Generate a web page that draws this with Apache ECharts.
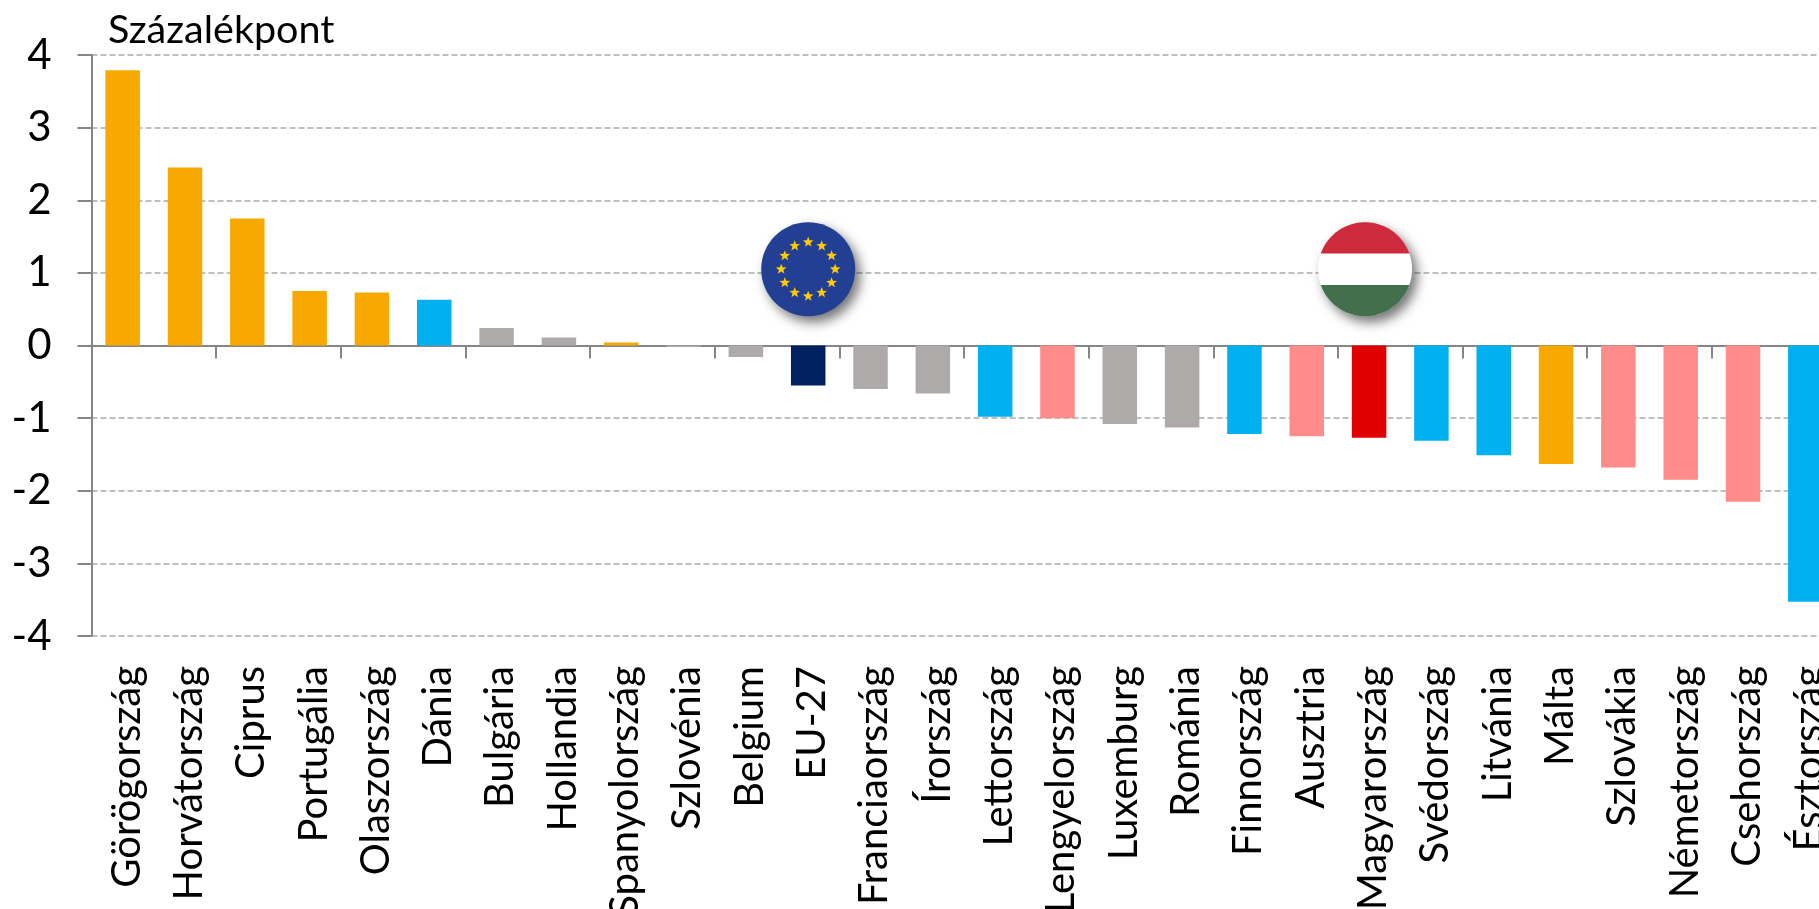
<!DOCTYPE html>
<html><head><meta charset="utf-8">
<style>html,body{margin:0;padding:0;background:#fff}#c{width:1819px;height:909px}</style>
<script src="https://cdn.jsdelivr.net/npm/echarts@6/dist/echarts.min.js"></script>
</head><body><div id="c"></div>
<script>
const categories=["Görögország","Horvátország","Ciprus","Portugália","Olaszország","Dánia","Bulgária","Hollandia","Spanyolország","Szlovénia","Belgium","EU-27","Franciaország","Írország","Lettország","Lengyelország","Luxemburg","Románia","Finnország","Ausztria","Magyarország","Svédország","Litvánia","Málta","Szlovákia","Németország","Csehország","Észtország"];
const values=[3.79,2.45,1.75,0.75,0.73,0.63,0.24,0.11,0.04,-0.02,-0.16,-0.55,-0.6,-0.66,-0.98,-1.0,-1.08,-1.13,-1.22,-1.25,-1.27,-1.31,-1.51,-1.63,-1.68,-1.85,-2.15,-3.53];
const O="#f7a900",B="#00b0f0",G="#aeaaaa",N="#00205f",P="#ff8b8b",R="#e00000";
const barColors=[O,O,O,O,O,B,G,G,O,G,G,N,G,G,B,P,G,G,B,P,R,B,B,O,P,P,P,B];
const yTicks=[-4,-3,-2,-1,0,1,2,3,4];
const unitLabel="Százalékpont";
const flags=[["EU-27",1.05,"eu"],["Magyarország",1.05,"hu"]];
const FONT="Lato";
const RX=47,RY=47,HU_DX=-4;
function star(cx,cy,r){const pts=[];for(let i=0;i<10;i++){const a=-Math.PI/2+i*Math.PI/5,q=i%2?r*0.42:r;pts.push([cx+q*Math.cos(a),cy+q*Math.sin(a)]);}return pts;}
function renderFlag(params,api){
 const c=api.coord([api.value(0),api.value(1)]);const kind=flags[params.dataIndex][2];
 const cx=c[0]+(kind==="hu"?HU_DX:0),cy=c[1];const ch=[];
 const shadow={shadowBlur:12,shadowOffsetX:5,shadowOffsetY:6,shadowColor:"rgba(0,0,0,0.55)"};
 if(kind==="eu"){
  ch.push({type:"ellipse",shape:{cx,cy,rx:RX,ry:RY},style:Object.assign({fill:"#233f93"},shadow)});
  for(let i=0;i<12;i++){const a=i*Math.PI/6;ch.push({type:"polygon",shape:{points:star(cx+27*Math.sin(a),cy-27*Math.cos(a),5.6)},style:{fill:"#ffcc00"}});}
 }else{
  ch.push({type:"ellipse",shape:{cx,cy,rx:RX,ry:RY},style:Object.assign({fill:"#fff"},shadow)});
  const clip=(y1,y2)=>{const pts=[];const n=40;const a1=Math.asin((y1-cy)/RY),a2=Math.asin((y2-cy)/RY);
   for(let i=0;i<=n;i++){const a=a1+(a2-a1)*i/n;pts.push([cx+RX*Math.cos(a),cy+RY*Math.sin(a)]);}
   for(let i=n;i>=0;i--){const a=a1+(a2-a1)*i/n;pts.push([cx-RX*Math.cos(a),cy+RY*Math.sin(a)]);}
   return pts;};
  ch.push({type:"polygon",shape:{points:clip(cy-RY,cy-RY/3)},style:{fill:"#cd2a3e"}});
  ch.push({type:"polygon",shape:{points:clip(cy+RY/3,cy+RY)},style:{fill:"#436f4d"}});
 }
 return {type:"group",children:ch};
}
const chart=echarts.init(document.getElementById("c"),null,{renderer:"canvas"});
chart.setOption({
 animation:false,
 backgroundColor:"#fff",
 textStyle:{fontFamily:FONT},
 title:{text:unitLabel,left:103,top:5,textStyle:{fontFamily:FONT,fontWeight:"normal",fontSize:39.5,color:"#000"}},
 grid:{left:91.5,top:55,width:1745,height:581,containLabel:false,outerBoundsMode:"none"},
 xAxis:[
  {type:"category",data:categories,position:"bottom",axisLine:{show:false,onZero:false},axisTick:{show:false},
   axisLabel:{rotate:90,interval:0,margin:30,fontSize:40,color:"#000",fontFamily:FONT,overflow:"none",hideOverlap:false,
    formatter:v=>"{a|"+v+"}",rich:{a:{fontSize:40,fontFamily:FONT,color:"#000",padding:[8,0,0,0]}}},splitLine:{show:false}},
  {type:"category",data:categories,position:"bottom",axisLine:{show:true,onZero:true,lineStyle:{color:"#868686",width:2}},
   axisTick:{show:true,alignWithLabel:false,length:13,lineStyle:{color:"#868686",width:2}},axisLabel:{show:false},splitLine:{show:false}}
 ],
 yAxis:{type:"value",min:-4,max:4,interval:1,
  axisLine:{show:true,onZero:false,lineStyle:{color:"#868686",width:2}},
  axisTick:{show:true,length:14,lineStyle:{color:"#868686",width:2}},
  axisLabel:{margin:40,fontSize:42,color:"#000",fontFamily:FONT,formatter:v=>String(v),customValues:yTicks},
  splitLine:{show:true,lineStyle:{type:[6,3],color:"#bfbfbf",width:2}}},
 series:[
  {type:"bar",xAxisIndex:0,data:values.map((v,i)=>({value:v,itemStyle:{color:barColors[i]}})),barWidth:34.5,z:3},
  {type:"custom",xAxisIndex:0,renderItem:renderFlag,data:flags.map(f=>[f[0],f[1]]),encode:{x:0,y:1},z:5,silent:true}
 ]
});
</script></body></html>
